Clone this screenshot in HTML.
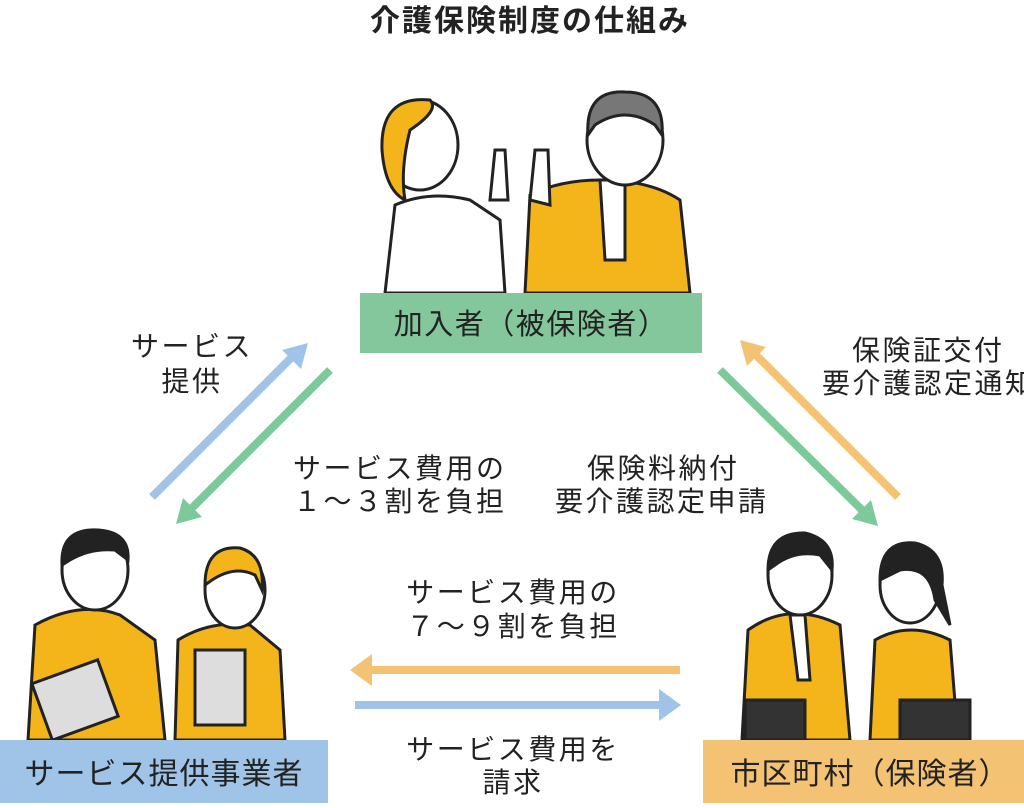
<!DOCTYPE html>
<html><head><meta charset="utf-8"><style>
body{margin:0;background:#fff}
svg text{font-family:"Liberation Sans","Noto Sans CJK JP",sans-serif;fill:#222}
</style></head><body>
<svg width="1024" height="803" viewBox="0 0 1024 803" xmlns="http://www.w3.org/2000/svg">
<text x="530" y="31" font-size="30" font-weight="bold" text-anchor="middle" letter-spacing="2">介護保険制度の仕組み</text>

<!-- top people -->
<g stroke="#222" stroke-width="3">
<path d="M385 293 L395 205 Q430 190 470 200 L500 220 L505 293 Z" fill="#fff"/>
<ellipse cx="420" cy="145" rx="38" ry="45" fill="#fff"/>
<path d="M382 150 Q380 95 430 100 Q440 110 410 130 Q400 170 405 200 Q385 190 382 150Z" fill="#f3b51a"/>
<path d="M490 200 L495 150 L505 150 L508 200Z" fill="#fff"/>
<path d="M525 293 L530 195 Q560 180 600 180 Q650 180 680 200 L690 293 Z" fill="#f3b51a"/>
<path d="M600 180 L625 180 L625 260 L605 260Z" fill="#fff"/>
<ellipse cx="625" cy="140" rx="38" ry="45" fill="#fff"/>
<path d="M588 135 Q585 90 625 92 Q665 92 662 135 L655 125 Q625 105 595 125Z" fill="#777"/>
<path d="M530 200 L535 150 L548 150 L550 205Z" fill="#fff"/>
</g>
<rect x="360" y="293" width="342" height="60" fill="#84c79d"/>
<text x="531" y="334" font-size="29" text-anchor="middle" letter-spacing="1.5">加入者（被保険者）</text>

<!-- arrows -->
<g stroke-width="8" fill="none">
<line x1="152" y1="497" x2="292" y2="357" stroke="#9fc4e8"/>
<line x1="330" y1="370" x2="192" y2="508" stroke="#7cc99a"/>
<line x1="898" y1="497" x2="756" y2="355" stroke="#f3c272"/>
<line x1="720" y1="370" x2="862" y2="510" stroke="#7cc99a"/>
<line x1="680" y1="670" x2="372" y2="670" stroke="#f3c272"/>
<line x1="355" y1="705" x2="660" y2="705" stroke="#9fc4e8"/>
</g>
<polygon points="308,343 282,350 301,369" fill="#9fc4e8"/>
<polygon points="176,524 183,498 202,517" fill="#7cc99a"/>
<polygon points="740,340 766,347 747,366" fill="#f3c272"/>
<polygon points="878,526 852,519 871,500" fill="#7cc99a"/>
<polygon points="350,670 372,654 372,686" fill="#f3c272"/>
<polygon points="681,705 659,689 659,721" fill="#9fc4e8"/>

<g font-size="28" letter-spacing="2.5">
<text x="192" y="356" text-anchor="middle">サービス</text>
<text x="192" y="391" text-anchor="middle">提供</text>
<text x="293" y="478">サービス費用の</text>
<text x="293" y="511">１～３割を負担</text>
<text x="587" y="478">保険料納付</text>
<text x="555" y="511">要介護認定申請</text>
<text x="852" y="360">保険証交付</text>
<text x="822" y="393">要介護認定通知</text>
<text x="513" y="602" text-anchor="middle">サービス費用の</text>
<text x="513" y="636" text-anchor="middle">７～９割を負担</text>
<text x="513" y="759" text-anchor="middle">サービス費用を</text>
<text x="513" y="792" text-anchor="middle">請求</text>
</g>

<!-- bottom-left people -->
<g stroke="#222" stroke-width="3">
<path d="M28 740 L35 625 Q80 600 120 615 L155 640 L165 740Z" fill="#f3b51a"/>
<ellipse cx="95" cy="570" rx="33" ry="40" fill="#fff"/>
<path d="M62 565 Q60 528 98 530 Q130 532 128 560 L115 550 Q90 548 70 560Z" fill="#222"/>
<rect x="40" y="670" width="70" height="60" fill="#ddd" transform="rotate(-20 75 700)"/>
<path d="M175 740 L178 640 Q210 620 250 625 L280 650 L285 740Z" fill="#f3b51a"/>
<ellipse cx="235" cy="590" rx="30" ry="38" fill="#fff"/>
<path d="M205 585 Q205 545 240 548 Q265 555 262 590 L255 575 Q235 565 212 580Z" fill="#f3b51a"/>
<rect x="195" y="650" width="50" height="75" fill="#ddd"/>
</g>
<rect x="0" y="740" width="328" height="63" fill="#9fc4e8"/>
<text x="164" y="784" font-size="30" text-anchor="middle" letter-spacing="1">サービス提供事業者</text>

<!-- bottom-right people -->
<g stroke="#222" stroke-width="3">
<path d="M742 740 L748 630 Q790 600 840 625 L850 740Z" fill="#f3b51a"/>
<path d="M790 615 L805 615 L810 680 L798 680Z" fill="#fff"/>
<ellipse cx="800" cy="575" rx="32" ry="40" fill="#fff"/>
<path d="M768 570 Q768 532 805 533 Q835 540 832 570 L820 555 Q795 550 775 565Z" fill="#222"/>
<rect x="745" y="700" width="60" height="40" fill="#333"/>
<path d="M870 740 L875 640 Q910 620 950 640 L958 740Z" fill="#f3b51a"/>
<ellipse cx="910" cy="585" rx="30" ry="38" fill="#fff"/>
<path d="M880 580 Q880 540 915 543 Q945 550 942 585 L950 625 L935 600 Q930 565 900 570Z" fill="#222"/>
<rect x="900" y="700" width="70" height="40" fill="#333"/>
</g>
<rect x="703" y="740" width="321" height="63" fill="#f3c272"/>
<text x="870" y="784" font-size="30" text-anchor="middle" letter-spacing="1">市区町村（保険者）</text>
</svg>
</body></html>
